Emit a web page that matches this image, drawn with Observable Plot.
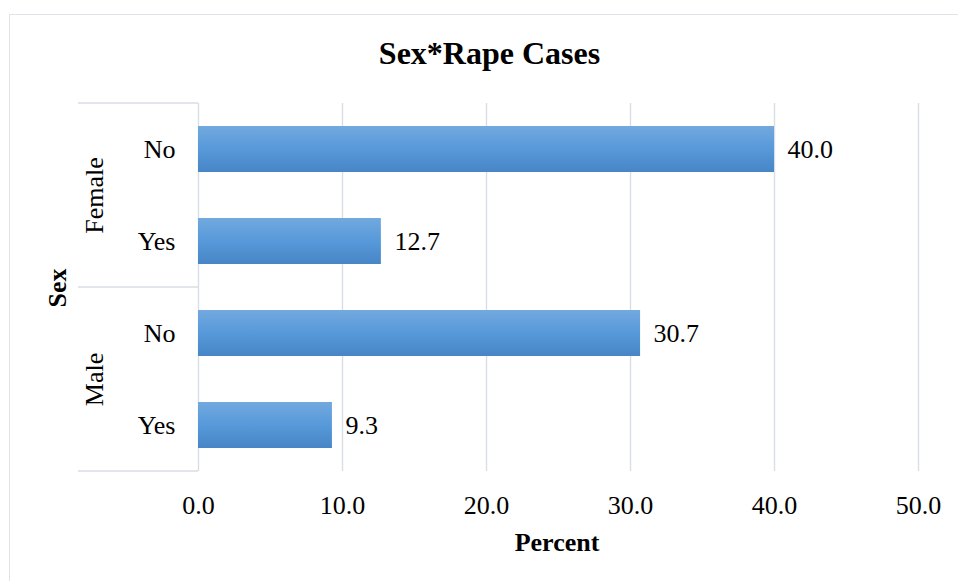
<!DOCTYPE html>
<html>
<head>
<meta charset="utf-8">
<script src="https://cdn.jsdelivr.net/npm/d3@7"></script>
<script src="https://cdn.jsdelivr.net/npm/@observablehq/plot@0.6"></script>
<style>
  body { margin: 0; background: #fff; }
  #wrap { position: relative; width: 958px; height: 581px; overflow: hidden; background: #fff;
          font-family: "Liberation Serif", "Times New Roman", serif; color: #000; }
  #border { position: absolute; left: 9px; top: 14px; width: 1000px; height: 600px;
            border-top: 1.5px solid #dfe3ea; border-left: 1.5px solid #dfe3ea; }
  #chart { position: absolute; left: 0; top: 0; }
  .lbl { position: absolute; font-weight: bold; white-space: nowrap; line-height: 1; }
  #title { left: 489.5px; top: 53px; font-size: 32px; transform: translate(-50%, -50%); }
  #xlabel { left: 557px; top: 543px; font-size: 26px; transform: translate(-50%, -50%); }
  #ylabel { left: 57.5px; top: 288px; font-size: 26px; transform: translate(-50%, -50%) rotate(-90deg); }
</style>
</head>
<body>
<div id="wrap">
  <div id="border"></div>
  <div id="chart"></div>
  <div id="title" class="lbl">Sex*Rape Cases</div>
  <div id="xlabel" class="lbl">Percent</div>
  <div id="ylabel" class="lbl">Sex</div>
</div>
<script>
// ---- data ----
const sexes = ["Female", "Female", "Male", "Male"];
const rapeCases = ["No", "Yes", "No", "Yes"];
const percents = [40.0, 12.7, 30.7, 9.3];
const sexGroups = ["Female", "Male"];
const caseCategories = ["No", "Yes"];
const xTicks = [0, 10, 20, 30, 40, 50];

const data = percents.map((p, i) => ({ sex: sexes[i], rape: rapeCases[i], percent: p }));

const gridColor = "#d9dee5";
const fmt = d => d.toFixed(1);

const chart = Plot.plot({
  width: 958,
  height: 581,
  marginTop: 103,
  marginBottom: 110,
  marginLeft: 198,
  marginRight: 40,
  style: {
    fontFamily: "'Liberation Serif', 'Times New Roman', serif",
    fontSize: "26px",
    color: "#000",
    background: "transparent",
    overflow: "visible"
  },
  x: { domain: [0, 50], ticks: xTicks, tickFormat: fmt, tickSize: 0, tickPadding: 24, label: null },
  y: { domain: caseCategories, paddingInner: 0.5, paddingOuter: 0.25, tickSize: 0, tickPadding: 23, label: null },
  fy: { domain: sexGroups, padding: 0, axis: null, label: null },
  facet: { data, y: "sex", marginTop: 0, marginBottom: 0, marginLeft: 0, marginRight: 0 },
  marks: [
    Plot.ruleX(xTicks, { stroke: gridColor, strokeWidth: 1.4 }),
    Plot.barX(data, { x: "percent", y: "rape", fill: "url(#barGrad)" }),
    Plot.text(data, { x: "percent", y: "rape", text: d => fmt(d.percent), textAnchor: "start", dx: 13, fill: "#000" }),
    Plot.text(data, { filter: d => d.rape === "No", text: "sex", frameAnchor: "left", textAnchor: "middle", lineAnchor: "middle", rotate: -90, dx: -104, fill: "#000" })
  ]
});

// gradient for bars
d3.select(chart).insert("defs", ":first-child").html(
  `<linearGradient id="barGrad" x1="0" y1="0" x2="0" y2="1">
     <stop offset="0" stop-color="#72a9de"/>
     <stop offset="0.5" stop-color="#5799da"/>
     <stop offset="1" stop-color="#4785c6"/>
   </linearGradient>`
);

// group separator lines in the left margin, positioned from the fy scale
const fy = chart.scale("fy");
const xs = chart.scale("x");
const x0 = xs.range[0];
const bw = fy.bandwidth;
const ys = sexGroups.map(g => fy.apply(g));
ys.push(fy.apply(sexGroups[sexGroups.length - 1]) + bw);
d3.select(chart).append("g")
  .selectAll("line").data(ys).join("line")
  .attr("x1", x0 - 120).attr("x2", x0)
  .attr("y1", d => d).attr("y2", d => d)
  .attr("stroke", gridColor).attr("stroke-width", 1.4);

document.getElementById("chart").appendChild(chart);
</script>
</body>
</html>
